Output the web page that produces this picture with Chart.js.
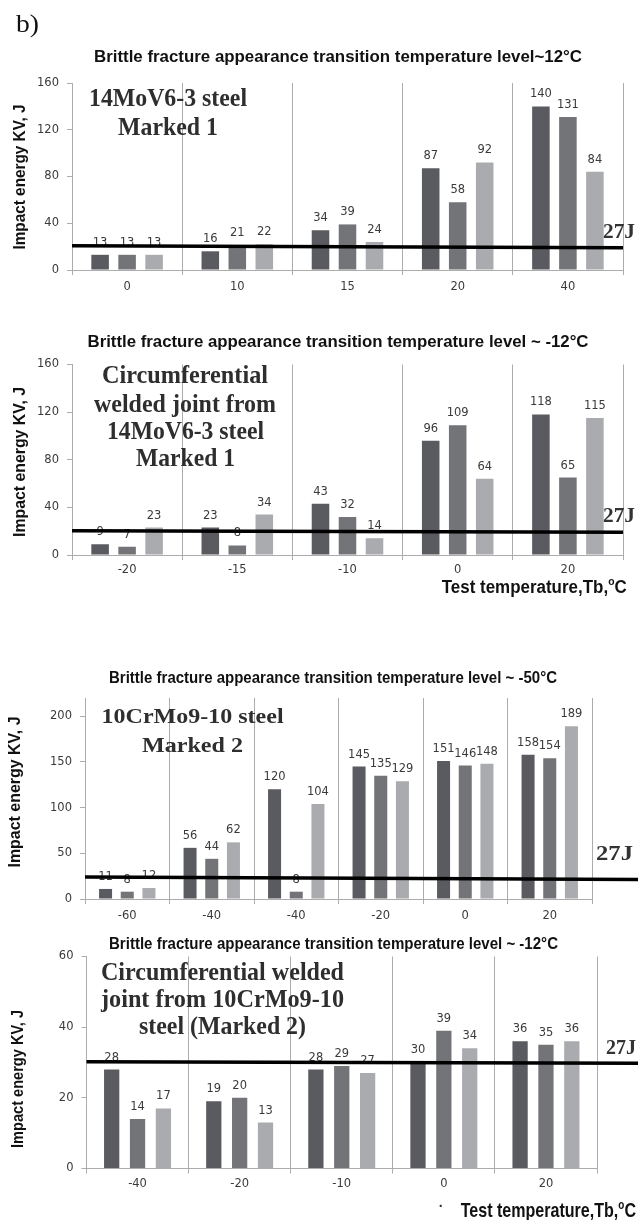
<!DOCTYPE html>
<html>
<head>
<meta charset="utf-8">
<script src="https://cdn.jsdelivr.net/npm/chart.js@4.4.1/dist/chart.umd.min.js"></script>
<style>
  html, body { margin: 0; padding: 0; background: #fff; }
  #page { position: relative; width: 638px; height: 1220px; background: #fff; overflow: hidden; }
  #page canvas { position: absolute; left: 0; }
</style>
</head>
<body>
<div id="page">
  <canvas id="c1" width="638" height="310" style="top:0px"></canvas>
  <canvas id="c2" width="638" height="290" style="top:310px"></canvas>
  <canvas id="c3" width="638" height="330" style="top:600px"></canvas>
  <canvas id="c4" width="638" height="290" style="top:930px"></canvas>
</div>
<script>
// --- data ---
const steel1Temps = ["0", "10", "15", "20", "40"];
const steel1A = [13, 16, 34, 87, 140];
const steel1B = [13, 21, 39, 58, 131];
const steel1C = [13, 22, 24, 92, 84];
const steel1Limit = [20.8, 19.1]; // the "27J" line, left end / right end

const weld1Temps = ["-20", "-15", "-10", "0", "20"];
const weld1A = [9, 23, 43, 96, 118];
const weld1B = [7, 8, 32, 109, 65];
const weld1C = [23, 34, 14, 64, 115];
const weld1Limit = [20.4, 19.1];

const steel2Temps = ["-60", "-40", "-40", "-20", "0", "20"];
const steel2A = [11, 56, 120, 145, 151, 158];
const steel2B = [8, 44, 8, 135, 146, 154];
const steel2C = [12, 62, 104, 129, 148, 189];
const steel2Limit = [24, 21.3];

const weld2Temps = ["-40", "-20", "-10", "0", "20"];
const weld2A = [28, 19, 28, 30, 36];
const weld2B = [14, 20, 29, 39, 35];
const weld2C = [17, 13, 27, 34, 36];
const weld2Limit = [30.2, 29.8];

const barColors = ["#5a5b60", "#737478", "#a9abae"];
const gridGray = "#acacac";
const tickFont = { family: "DejaVu Sans", size: 11.5 };

// draw text squeezed/stretched to a given width, centred on (cx, cy)
function fitText(ctx, text, cx, cy, w, font, color, rotate) {
  ctx.save();
  ctx.font = font;
  ctx.fillStyle = color;
  ctx.textAlign = "center";
  ctx.textBaseline = "middle";
  const m = ctx.measureText(text).width;
  ctx.translate(cx, cy);
  if (rotate) ctx.rotate(-Math.PI / 2);
  ctx.scale(w / m, 1);
  ctx.fillText(text, 0, 0);
  ctx.restore();
}

// "Test temperature,Tb,°C" with a raised small o
function axisCaption(ctx, x1, x2, cy, size) {
  const parts = [
    { t: "Test temperature,Tb,", f: "bold " + size + "px 'Liberation Sans'", dy: 0 },
    { t: "o", f: "bold " + Math.round(size * 0.62) + "px 'Liberation Sans'", dy: -size * 0.32 },
    { t: "C", f: "bold " + size + "px 'Liberation Sans'", dy: 0 }
  ];
  let total = 0;
  parts.forEach(p => { ctx.font = p.f; p.w = ctx.measureText(p.t).width; total += p.w; });
  ctx.save();
  ctx.fillStyle = "#111";
  ctx.textAlign = "left";
  ctx.textBaseline = "middle";
  ctx.translate(x1, cy);
  ctx.scale((x2 - x1) / total, 1);
  let x = 0;
  parts.forEach(p => { ctx.font = p.f; ctx.fillText(p.t, x, p.dy); x += p.w; });
  ctx.restore();
}

function decorate(spec) {
  return {
    id: "decorate",
    afterDraw(chart) {
      const ctx = chart.ctx;
      const top = spec.canvasTop;
      const yScale = chart.scales.y;

      // value labels above the bars
      ctx.save();
      ctx.font = "11.5px 'DejaVu Sans'";
      ctx.fillStyle = "#3a3a3a";
      ctx.textAlign = "center";
      ctx.textBaseline = "middle";
      chart.data.datasets.forEach((ds, i) => {
        chart.getDatasetMeta(i).data.forEach((bar, j) => {
          ctx.fillText(String(ds.data[j]), bar.x, bar.y - 12);
        });
      });
      ctx.restore();

      // the 27J line
      ctx.save();
      ctx.strokeStyle = "#000";
      ctx.lineWidth = 3.5;
      ctx.beginPath();
      ctx.moveTo(chart.chartArea.left, yScale.getPixelForValue(spec.limit[0]));
      ctx.lineTo(spec.lineEnd, yScale.getPixelForValue(spec.limit[1]));
      ctx.stroke();
      ctx.restore();

      if (spec.mark) fitText(ctx, spec.mark.t, spec.mark.x, spec.mark.y - top, spec.mark.w, "25px 'Liberation Serif'", "#111");

      fitText(ctx, spec.title, spec.titleX, spec.titleY - top, spec.titleW, "bold 16px 'Liberation Sans'", "#111");
      fitText(ctx, "Impact energy KV, J", spec.yTitle[0], spec.yTitle[1] - top, spec.yTitle[2], "bold 16px 'Liberation Sans'", "#111", true);

      spec.note.forEach(n => {
        fitText(ctx, n[0], n[1], n[2] - top, n[3], "bold " + spec.noteSize + "px 'Liberation Serif'", "#2e2e2e");
      });

      fitText(ctx, "27J", spec.j27[0], spec.j27[1] - top, spec.j27[2], "bold 21px 'Liberation Serif'", "#333");

      if (spec.caption) {
        axisCaption(ctx, spec.caption[0], spec.caption[1], spec.caption[2] - top, spec.caption[3]);
      }
      if (spec.dot) {
        ctx.save();
        ctx.font = "bold 14px 'Liberation Sans'";
        ctx.fillStyle = "#333";
        ctx.textAlign = "center";
        ctx.textBaseline = "middle";
        ctx.fillText("·", spec.dot[0], spec.dot[1] - top);
        ctx.restore();
      }
    }
  };
}

function makeChart(id, labels, a, b, c, spec) {
  const cv = document.getElementById(id);
  const H = cv.height;
  return new Chart(cv, {
    type: "bar",
    data: {
      labels: labels,
      datasets: [a, b, c].map((d, i) => ({
        data: d,
        backgroundColor: barColors[i],
        borderWidth: 0,
        categoryPercentage: spec.catPct,
        barPercentage: spec.barPct
      }))
    },
    options: {
      responsive: false,
      animation: false,
      layout: {
        padding: {
          left: 0,
          top: spec.area.top - spec.canvasTop,
          right: 638 - spec.area.right,
          bottom: 0
        }
      },
      plugins: {
        legend: { display: false },
        tooltip: { enabled: false }
      },
      scales: {
        x: {
          grid: { display: true, drawOnChartArea: true, color: gridGray, lineWidth: 1, tickLength: 5, offset: true },
          border: { color: gridGray, width: 1 },
          ticks: { color: "#3a3a3a", font: tickFont, padding: spec.xPad, maxRotation: 0, autoSkip: false },
          afterFit(scale) { scale.height = H - (spec.area.bottom - spec.canvasTop); }
        },
        y: {
          min: 0,
          max: spec.yMax,
          grid: { display: true, drawOnChartArea: false, color: gridGray, tickLength: 5 },
          border: { color: gridGray, width: 1 },
          ticks: { stepSize: spec.yStep, color: "#3a3a3a", font: tickFont, padding: 8 },
          afterBuildTicks(scale) {
            scale.ticks = scale.ticks.filter(t => t.value % spec.yStep === 0);
          },
          afterFit(scale) { scale.width = spec.area.left; }
        }
      }
    },
    plugins: [decorate(spec)]
  });
}

makeChart("c1", steel1Temps, steel1A, steel1B, steel1C, {
  canvasTop: 0,
  area: { left: 72, right: 623, top: 83, bottom: 270 },
  yMax: 160, yStep: 40, xPad: 5,
  catPct: 0.735, barPct: 0.65,
  limit: steel1Limit, lineEnd: 623,
  mark: { t: "b)", x: 27.5, y: 25, w: 23 },
  title: "Brittle fracture appearance transition temperature level~12°C",
  titleX: 338, titleY: 58, titleW: 488,
  yTitle: [21, 177, 145],
  noteSize: 25,
  note: [["14MoV6-3 steel", 168, 100, 158], ["Marked 1", 168, 129, 100]],
  j27: [619, 233, 32]
});

makeChart("c2", weld1Temps, weld1A, weld1B, weld1C, {
  canvasTop: 310,
  area: { left: 72, right: 623, top: 364.5, bottom: 555 },
  yMax: 160, yStep: 40, xPad: 3,
  catPct: 0.735, barPct: 0.65,
  limit: weld1Limit, lineEnd: 623,
  title: "Brittle fracture appearance transition temperature level ~ -12°C",
  titleX: 338, titleY: 343, titleW: 501,
  yTitle: [21, 462, 150],
  noteSize: 25,
  note: [
    ["Circumferential", 185, 377, 166],
    ["welded joint from", 185, 406, 182],
    ["14MoV6-3 steel", 185.5, 433, 157],
    ["Marked 1", 185.5, 460, 99]
  ],
  j27: [619, 517, 32],
  caption: [441.7, 626.7, 588, 18]
});

makeChart("c3", steel2Temps, steel2A, steel2B, steel2C, {
  canvasTop: 600,
  area: { left: 85, right: 592, top: 698, bottom: 899 },
  yMax: 220, yStep: 50, xPad: 5,
  catPct: 0.77, barPct: 0.6,
  limit: steel2Limit, lineEnd: 638,
  title: "Brittle fracture appearance transition temperature level ~ -50°C",
  titleX: 333, titleY: 679, titleW: 448,
  yTitle: [16, 792, 151],
  noteSize: 22,
  note: [["10CrMo9-10 steel", 192.6, 717, 182], ["Marked 2", 192.5, 746, 101]],
  j27: [614.5, 855, 37]
});

makeChart("c4", weld2Temps, weld2A, weld2B, weld2C, {
  canvasTop: 930,
  area: { left: 86.5, right: 597, top: 956.5, bottom: 1168.5 },
  yMax: 60, yStep: 20, xPad: 4,
  catPct: 0.76, barPct: 0.59,
  limit: weld2Limit, lineEnd: 638,
  title: "Brittle fracture appearance transition temperature level ~ -12°C",
  titleX: 333.5, titleY: 945, titleW: 449,
  yTitle: [18.5, 1079, 138],
  noteSize: 25,
  note: [
    ["Circumferential welded", 222.5, 974, 243],
    ["joint from 10CrMo9-10", 222.5, 1001, 243],
    ["steel (Marked 2)", 222.5, 1028, 167]
  ],
  j27: [621, 1049, 30],
  caption: [460.7, 636, 1211.7, 21],
  dot: [441, 1207]
});
</script>
</body>
</html>
